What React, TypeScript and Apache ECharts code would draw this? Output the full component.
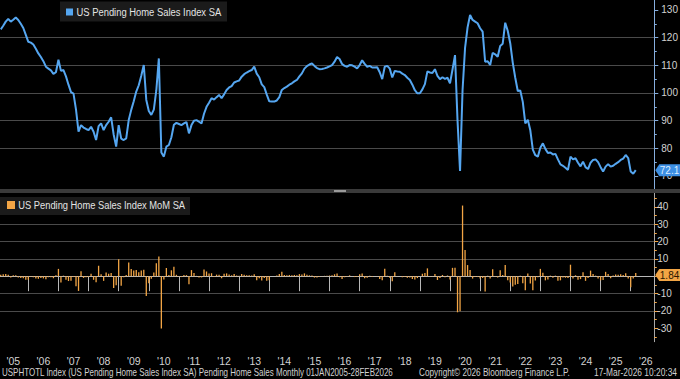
import React, { useEffect, useRef } from "react";
import * as echarts from "echarts";

// ---- data (monthly, Jan 2005 .. Feb 2026) ----
const START_YEAR = 2005;
const YEAR_LABELS = ["05","06","07","08","09","10","11","12","13","14","15","16","17","18","19","20","21","22","23","24","25","26"];
const TOP_TICKS = [70, 80, 90, 100, 110, 120, 130];
const BOTTOM_TICKS = [-30, -20, -10, 0, 10, 20, 30, 40];

const INDEX_SA = [
  123.0, 124.3, 125.8, 126.8, 125.8, 126.5, 127.3, 126.4, 125.0, 123.5, 121.0, 118.5,
  118.2, 117.5, 116.0, 114.3, 113.0, 111.5, 109.5, 108.8, 108.2, 106.9, 107.5, 112.0,
  108.0, 108.3, 106.0, 103.0, 100.3, 99.8, 94.0, 86.0, 88.4, 87.5, 87.0, 86.6,
  87.8, 86.0, 83.0, 88.0, 89.0, 86.6, 88.4, 89.6, 91.2, 85.0, 80.6, 88.4,
  83.5, 83.0, 83.6, 90.2, 93.9, 97.0, 100.5, 102.8, 106.2, 110.1, 97.5, 93.5,
  92.1, 94.0, 101.0, 112.5, 78.5, 77.0, 80.6, 81.2, 84.0, 88.5, 89.2, 88.8,
  88.4, 89.0, 89.5, 85.4, 88.4, 90.0, 90.2, 89.6, 89.0, 92.5, 95.0, 96.5,
  98.1, 97.6, 98.5, 99.3, 98.1, 99.5, 101.1, 102.0, 102.5, 103.8, 104.2, 104.5,
  105.9, 106.8, 107.4, 107.9, 108.3, 109.5, 107.0, 105.7, 103.1, 102.1, 99.4, 97.0,
  96.9, 96.9, 97.3, 98.5, 101.1, 101.8, 102.3, 103.0, 103.5, 104.2, 104.7, 106.0,
  107.1, 108.8, 109.7, 110.3, 110.7, 109.8, 109.0, 108.6, 108.7, 108.9, 109.2, 109.6,
  110.1, 111.3, 113.0, 112.3, 110.5, 109.8, 109.5, 110.1, 110.0, 109.5, 108.9, 110.1,
  111.8, 110.5, 109.5, 109.8, 109.2, 109.2, 109.3, 107.5, 105.0, 109.5, 109.8, 108.8,
  105.6, 108.0, 107.8, 107.7, 107.0, 106.5, 105.5, 104.7, 103.0, 101.0, 99.9, 99.9,
  101.3, 103.2, 107.8, 107.4, 107.2, 108.6, 106.2, 105.0, 105.7, 105.1, 105.5, 103.5,
  108.5, 113.7, 90.0, 71.8, 101.0, 116.3, 123.7, 128.2, 126.4, 125.8, 125.2, 123.4,
  122.2, 111.3, 111.5, 110.1, 114.5, 114.0, 113.1, 117.0, 117.8, 125.4, 122.5, 118.0,
  111.0, 105.5, 100.7, 100.9, 96.8, 89.0, 90.3, 86.5, 79.5, 77.5, 77.0, 80.2,
  81.8, 79.8, 78.3, 78.5, 77.8, 78.0, 76.0, 74.2, 73.7, 73.0, 72.2, 77.0,
  76.0, 76.4, 74.8, 73.5, 75.2, 73.2, 72.5, 74.8, 75.8, 76.0, 75.0, 73.2,
  71.6, 73.4, 74.3, 73.4, 73.7, 74.4, 75.0, 75.8, 76.3, 77.6, 76.5, 71.6,
  70.8, 72.1,
];

const MOM_SA = [
  0.8, 1.1, 1.2, 0.8, -0.8, 0.6, 0.6, -0.7, -1.1, -1.2, -2.0, -2.1,
  -0.3, -0.6, -1.3, -1.5, -1.1, -1.3, -1.8, -0.6, -0.6, -1.2, 0.6, 4.2,
  -3.6, 0.3, -2.1, -2.8, -2.6, -0.5, -5.8, -8.5, 2.8, -1.0, -0.6, -0.5,
  1.4, -2.1, -3.5, 6.0, 1.1, -2.7, 2.1, 1.4, 1.8, -6.8, -5.2, 9.7,
  -5.5, -0.6, 0.7, 7.9, 4.1, 3.3, 3.6, 2.3, 3.3, 3.7, -11.4, -4.1,
  -1.5, 2.1, 7.4, 11.4, -30.2, -1.9, 4.7, 0.7, 3.4, 5.4, 0.8, -0.4,
  -0.5, 0.7, 0.6, -4.6, 3.5, 1.8, 0.2, -0.7, -0.7, 3.9, 2.7, 1.6,
  1.7, -0.5, 0.9, 0.8, -1.2, 1.4, 1.6, 0.9, 0.5, 1.3, 0.4, 0.3,
  1.3, 0.8, 0.6, 0.5, 0.4, 1.1, -2.3, -1.2, -2.5, -1.0, -2.6, -2.4,
  -0.1, 0.0, 0.4, 1.2, 2.6, 0.7, 0.5, 0.7, 0.5, 0.7, 0.5, 1.2,
  1.0, 1.6, 0.8, 0.5, 0.4, -0.8, -0.7, -0.4, 0.1, 0.2, 0.3, 0.4,
  0.5, 1.1, 1.5, -0.6, -1.6, -0.6, -0.3, 0.5, -0.1, -0.5, -0.5, 1.1,
  1.5, -1.2, -0.9, 0.3, -0.5, 0.0, 0.1, -1.6, -2.3, 4.3, 0.3, -0.9,
  -2.9, 2.3, -0.2, -0.1, -0.6, -0.5, -0.9, -0.8, -1.6, -1.9, -1.1, 0.0,
  1.4, 1.9, 4.5, -0.4, -0.2, 1.3, -2.2, -1.1, 0.7, -0.6, 0.4, -1.9,
  4.8, 4.8, -20.8, -20.2, 40.7, 15.1, 6.4, 3.6, -1.4, -0.5, -0.5, -1.4,
  -1.0, -8.9, 0.2, -1.3, 4.0, -0.4, -0.8, 3.4, 0.7, 6.5, -2.3, -3.7,
  -5.9, -5.0, -4.5, 0.2, -4.1, -8.1, 1.5, -4.2, -8.1, -2.5, -0.6, 4.2,
  2.0, -2.4, -1.9, 0.3, -0.9, 0.3, -2.6, -2.4, -0.7, -0.9, -1.1, 6.6,
  -1.3, 0.5, -2.1, -1.7, 2.3, -2.7, -1.0, 3.2, 1.3, 0.3, -1.3, -2.4,
  -2.2, 2.5, 1.2, -1.2, 0.4, 1.0, 0.8, 1.1, 0.7, 1.7, -1.4, -6.4,
  -1.4, 1.84,
];

const TOP_LEGEND = "US Pending Home Sales Index SA";
const BOTTOM_LEGEND = "US Pending Home Sales Index MoM SA";
const FOOTER_LEFT = "USPHTOTL Index (US Pending Home Sales Index SA) Pending Home Sales Monthly 01JAN2005-28FEB2026";
const FOOTER_MID = "Copyright\u00A9 2026 Bloomberg Finance L.P.";
const FOOTER_RIGHT = "17-Mar-2026 10:20:34";

// ---- styles ----
const FONT = "'Liberation Sans', Arial, sans-serif";
const BLUE = "#55a6f0";
const ORANGE = "#f2a545";
const GRID_COLOR = "#4a4a4a";
const LABEL_COLOR = "#d2d2d2";

// month-end position of each observation, in fractional years
const monthPos = (i: number) => START_YEAR + (i + 1) / 12;

let measureCtx: CanvasRenderingContext2D | null = null;
const measure = (text: string, font: string) => {
  if (!measureCtx) measureCtx = document.createElement("canvas").getContext("2d");
  if (!measureCtx) return text.length * 6;
  measureCtx.font = font;
  return measureCtx.measureText(text).width;
};

export default function App() {
  const ref = useRef<HTMLDivElement>(null);

  useEffect(() => {
    document.body.style.margin = "0";
    document.body.style.background = "#000";
    const chart = echarts.init(ref.current!, null, { renderer: "svg" });

    const lineData = INDEX_SA.map((v, i) => [monthPos(i), v]);
    const barData = MOM_SA.map((v, i) => [monthPos(i), v]);
    const xMax = START_YEAR + 656.1 / 30.12;

    const xCommon = {
      type: "value" as const,
      min: START_YEAR,
      max: xMax,
      interval: 1,
    };

    chart.setOption({
      animation: false,
      backgroundColor: "#000",
      textStyle: { fontFamily: FONT },
      grid: [
        { left: -1.8, width: 656.1, top: 0, height: 189, outerBoundsMode: "none" },
        { left: -1.8, width: 656.1, top: 193, height: 148.7, outerBoundsMode: "none" },
      ],
      xAxis: [
        { ...xCommon, gridIndex: 0, show: false, splitLine: { show: false } },
        {
          ...xCommon,
          gridIndex: 1,
          axisLine: { show: true, lineStyle: { color: "#b8b8b8", width: 1 } },
          axisTick: { show: true, length: 15, lineStyle: { color: "#b8b8b8", width: 1 } },
          splitLine: { show: false },
          axisLabel: {
            show: true,
            customValues: YEAR_LABELS.map((_, k) => START_YEAR + k + 0.5),
            formatter: (v: number) => "'" + YEAR_LABELS[Math.floor(v) - START_YEAR],
            color: LABEL_COLOR,
            fontSize: 10.5,
            fontFamily: FONT,
            margin: 14,
          },
        },
      ],
      yAxis: [
        {
          type: "value",
          gridIndex: 0,
          position: "right",
          min: 65.3,
          max: 133.61,
          minInterval: 10,
          maxInterval: 10,
          axisLine: { show: true, lineStyle: { color: "#86aede", width: 1 } },
          axisTick: { show: true, inside: false, length: 4, customValues: TOP_TICKS, lineStyle: { color: "#86aede" } },
          minorTick: { show: true, splitNumber: 2, length: 2.5, lineStyle: { color: "#86aede" } },
          splitLine: { show: true, showMinLine: false, showMaxLine: false, lineStyle: { color: GRID_COLOR, width: 1 } },
          axisLabel: {
            customValues: TOP_TICKS,
            color: LABEL_COLOR,
            fontSize: 10,
            fontFamily: FONT,
            margin: 7,
          },
        },
        {
          type: "value",
          gridIndex: 1,
          position: "right",
          min: -37.76,
          max: 47.93,
          minInterval: 10,
          maxInterval: 10,
          axisLine: { show: true, lineStyle: { color: "#a8a8a8", width: 1 } },
          axisTick: { show: true, inside: false, length: 4, customValues: BOTTOM_TICKS, lineStyle: { color: ORANGE } },
          minorTick: { show: true, splitNumber: 2, length: 2.5, lineStyle: { color: ORANGE } },
          splitLine: { show: true, showMinLine: false, showMaxLine: false, lineStyle: { color: GRID_COLOR, width: 1 } },
          axisLabel: {
            customValues: BOTTOM_TICKS.filter((t) => t !== 0),
            color: LABEL_COLOR,
            fontSize: 10,
            fontFamily: FONT,
            margin: 3,
          },
        },
      ],
      series: [
        {
          type: "line",
          name: TOP_LEGEND,
          xAxisIndex: 0,
          yAxisIndex: 0,
          data: lineData,
          showSymbol: false,
          symbol: "none",
          lineStyle: { color: BLUE, width: 2 },
          z: 5,
        },
        {
          type: "bar",
          name: BOTTOM_LEGEND,
          xAxisIndex: 1,
          yAxisIndex: 1,
          data: barData,
          barWidth: 1.3,
          itemStyle: { color: ORANGE },
          z: 5,
        },
      ],
    });

    const lastI = INDEX_SA.length - 1;
    const yTop = chart.convertToPixel({ yAxisIndex: 0 }, INDEX_SA[lastI]) as number;
    const yBot = chart.convertToPixel({ yAxisIndex: 1 }, MOM_SA[lastI]) as number;
    const xAxisRight = chart.convertToPixel({ xAxisIndex: 1 }, xMax) as number;

    const tag = (id: string, yc: number, fill: string, txt: string, txtColor: string) => [
      {
        type: "polygon",
        id: id + "-bg",
        z: 120,
        shape: {
          points: [
            [xAxisRight + 1, yc],
            [xAxisRight + 5, yc - 6],
            [680, yc - 6],
            [680, yc + 6],
            [xAxisRight + 5, yc + 6],
          ],
        },
        style: { fill },
      },
      {
        type: "text",
        id: id + "-txt",
        z: 121,
        x: xAxisRight + 5.5,
        y: yc + 0.5,
        style: {
          text: txt,
          x: 0,
          y: 0,
          fill: txtColor,
          font: `10px ${FONT}`,
          align: "left",
          verticalAlign: "middle",
          textAlign: "left",
          textVerticalAlign: "middle",
        },
      },
    ];

    // text fitted horizontally to the width it takes in the reference
    const fitTxt = (id: string, x: number, y: number, text: string, fill: string, size: number, width: number) => {
      const font = `${size}px ${FONT}`;
      const w = measure(text, font);
      const sx = w > 0 ? Math.min(1, width / w) : 1;
      return {
        type: "text",
        id,
        z: 110,
        x,
        y,
        scaleX: sx,
        style: {
          text,
          x: 0,
          y: 0,
          fill,
          font,
          align: "left",
          verticalAlign: "middle",
          textAlign: "left",
          textVerticalAlign: "middle",
        },
      };
    };

    chart.setOption({
      graphic: {
        elements: [
          { type: "rect", id: "sep", z: 100, shape: { x: 0, y: 189, width: 680, height: 4 }, style: { fill: "#3a3a3a" } },
          { type: "rect", id: "sep-handle", z: 101, shape: { x: 334, y: 190, width: 12, height: 2 }, style: { fill: "#9a9a9a" } },
          { type: "rect", id: "leg1-bg", z: 100, shape: { x: 60, y: 1.5, width: 167, height: 20 }, style: { fill: "#1b1b1b" } },
          { type: "rect", id: "leg1-sq", z: 101, shape: { x: 66, y: 8.5, width: 7, height: 7 }, style: { fill: BLUE } },
          fitTxt("leg1-txt", 76.5, 12.5, TOP_LEGEND, "#e4e4e4", 11, 145),
          { type: "rect", id: "leg2-bg", z: 100, shape: { x: 0, y: 197, width: 190, height: 18 }, style: { fill: "#1b1b1b" } },
          { type: "rect", id: "leg2-sq", z: 101, shape: { x: 7, y: 201, width: 8, height: 8 }, style: { fill: ORANGE } },
          fitTxt("leg2-txt", 18.3, 205.5, BOTTOM_LEGEND, "#e4e4e4", 11, 167),
          fitTxt("foot1", 2, 372.5, FOOTER_LEFT, "#d0d0d0", 10.5, 391),
          fitTxt("foot2", 419, 372.5, FOOTER_MID, "#d0d0d0", 10.5, 151),
          fitTxt("foot3", 594, 372.5, FOOTER_RIGHT, "#d0d0d0", 10.5, 83),
          ...tag("tag-top", yTop, "#3d8fe3", String(INDEX_SA[lastI]), "#dcecff"),
          ...tag("tag-bot", yBot + 2, ORANGE, String(MOM_SA[lastI]), "#2a1800"),
        ],
      },
    });

    return () => chart.dispose();
  }, []);

  return <div ref={ref} style={{ width: 680, height: 379, background: "#000" }} />;
}
